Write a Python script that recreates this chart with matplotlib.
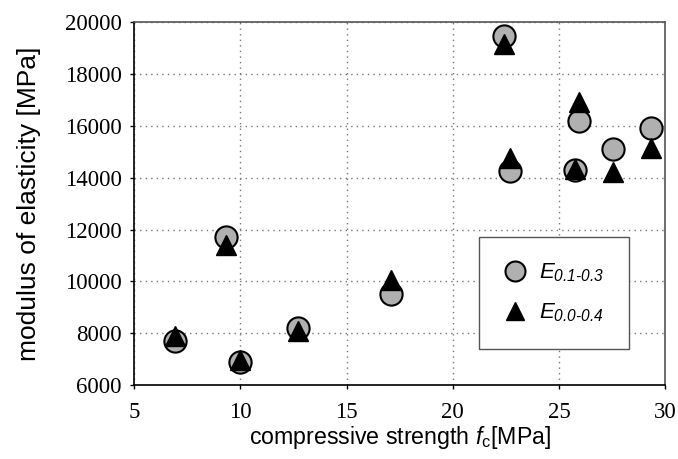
import matplotlib
matplotlib.use('Agg')
import matplotlib.pyplot as plt

plt.rcParams['mathtext.fontset'] = 'custom'
plt.rcParams['mathtext.rm'] = 'Liberation Sans:italic'
plt.rcParams['mathtext.it'] = 'Liberation Sans:italic'
plt.rcParams['mathtext.sf'] = 'Liberation Sans'

# compressive strength f_c [MPa]
fc = [6.9, 9.3, 10.0, 12.7, 17.1, 22.4, 22.7, 25.75, 25.95, 27.55, 29.35]
# modulus of elasticity E_0.1-0.3 [MPa]
e_01_03 = [7700, 11700, 6900, 8200, 9500, 19450, 14250, 14300, 16200, 15100, 15900]
# modulus of elasticity E_0.0-0.4 [MPa]
e_00_04 = [7900, 11400, 6950, 8100, 10050, 19150, 14750, 14350, 16900, 14200, 15150]

xticks = [5, 10, 15, 20, 25, 30]
yticks = [6000, 8000, 10000, 12000, 14000, 16000, 18000, 20000]

fig = plt.figure(figsize=(6.78, 4.59), dpi=100)
ax = fig.add_axes([0.198, 0.161, 0.783, 0.791])

ax.plot(fc, e_01_03, 'o', ms=16, mfc='#b0b0b0', mec='k', mew=1.5, ls='none',
        label=r'$E_{0.1\text{-}0.3}$', zorder=3)
ax.plot(fc, e_00_04, '^', ms=14, mfc='k', mec='k', ls='none',
        label=r'$E_{0.0\text{-}0.4}$', zorder=4)

ax.set_xlim(5, 30)
ax.set_ylim(6000, 20000)
ax.set_xticks(xticks)
ax.set_yticks(yticks)
ax.grid(True, ls=(0, (1, 3)), color='#777777', lw=1.0)
ax.set_axisbelow(True)

for lbl in ax.get_xticklabels() + ax.get_yticklabels():
    lbl.set_fontfamily('Liberation Serif')
    lbl.set_fontsize(16.5)
ax.tick_params(direction='out', length=3, width=1)
ax.tick_params(axis='x', pad=9)
ax.tick_params(axis='y', pad=6)

for s in ['left', 'bottom']:
    ax.spines[s].set_linewidth(1.2)
    ax.spines[s].set_color('k')
for s in ['top', 'right']:
    ax.spines[s].set_linewidth(1.2)
    ax.spines[s].set_color('#555555')

ax.set_xlabel(r'compressive strength $f_{\mathsf{c}}$[MPa]', fontfamily='Liberation Sans', fontsize=16.7, labelpad=1)
ax.set_ylabel('modulus of elasticity [MPa]', fontfamily='Liberation Sans', fontsize=19, labelpad=17)

leg = ax.legend(loc='upper left', bbox_to_anchor=(0.650, 0.408), fancybox=False, framealpha=1,
                edgecolor='#555555', fontsize=16, borderpad=1.1, labelspacing=0.8,
                handlelength=1.0, handletextpad=0.6, markerscale=0.9, borderaxespad=0)
leg.get_frame().set_linewidth(1.0)

fig.savefig('out.png', dpi=100)
